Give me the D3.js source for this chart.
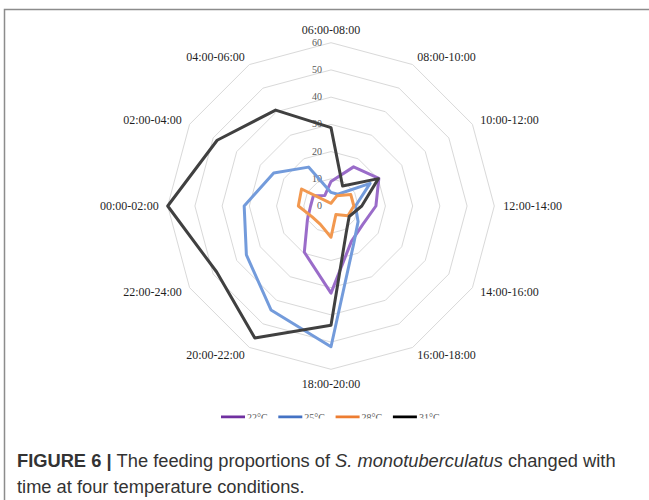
<!DOCTYPE html>
<html>
<head>
<meta charset="utf-8">
<script src="https://cdn.jsdelivr.net/npm/d3@7"></script>
<style>
  body { margin: 0; background: #fff; }
  svg { display: block; }
</style>
</head>
<body>
<svg id="chart" width="649" height="500"></svg>
<script>
"use strict";

// categories clockwise from the top
const categories = ["06:00-08:00", "08:00-10:00", "10:00-12:00", "12:00-14:00",
    "14:00-16:00", "16:00-18:00", "18:00-20:00", "20:00-22:00",
    "22:00-24:00", "00:00-02:00", "02:00-04:00", "04:00-06:00"];
const temps = ["22°C", "25°C", "28°C", "31°C"];
const t22 = [9, 16.6, 20.3, 16.5, 13.5, 15, 32, 19.6, 10, 7.5, 7.5, 4.5];
const t25 = [5, 5, 16.6, 9, 11.5, 16.5, 51.7, 44.1, 35.9, 31.9, 24.3, 16.5];
const t28 = [1, 4.3, 8.4, 8.4, 7.2, 3.6, 11.5, 7.8, 8, 12, 12.5, 1.5];
const t31 = [28.8, 8.5, 20.1, 11.3, 7.7, 11.2, 43.8, 56, 48.5, 60, 48.3, 40.7];
const radialTicks = [0, 10, 20, 30, 40, 50, 60];

const cx = 331, cy = 206, R = 163.3;
const svg = d3.select("#chart");

// frame lines of the figure box
svg.append("path")
    .attr("d", "M4.5,500 V9.5 H649")
    .attr("fill", "none")
    .attr("stroke", "#8c8c8c")
    .attr("stroke-width", 1.5);

const rScale = d3.scaleLinear().domain([0, 60]).range([0, R]);
const step = 2 * Math.PI / categories.length;
const g = svg.append("g").attr("transform", `translate(${cx},${cy})`);

// grid rings
const ringLine = d3.lineRadial()
    .angle((d, i) => i * step)
    .radius(d => rScale(d))
    .curve(d3.curveLinearClosed);
g.selectAll("path.ring")
    .data(radialTicks.slice(1))
    .join("path")
    .attr("class", "ring")
    .attr("d", t => ringLine(categories.map(() => t)))
    .attr("fill", "none")
    .attr("stroke", "#d9d9d9")
    .attr("stroke-width", 1);

// tick labels
g.selectAll("text.tick")
    .data(radialTicks)
    .join("text")
    .attr("class", "tick")
    .attr("x", -9)
    .attr("y", d => -rScale(d))
    .attr("dy", "0.3em")
    .attr("text-anchor", "end")
    .attr("font-family", "'Liberation Serif', serif")
    .attr("font-size", 10)
    .attr("fill", "#595959")
    .text(d => d);

// category labels
g.selectAll("text.cat")
    .data(categories)
    .join("text")
    .attr("class", "cat")
    .attr("x", (d, i) => (R + 9) * Math.sin(i * step))
    .attr("y", (d, i) => {
        let c = Math.cos(i * step);
        let extra = Math.abs(c) > 0.99 ? (c > 0 ? -4 : 5) : 0;
        return -(R + 9) * c + extra;
    })
    .attr("dy", "0.35em")
    .attr("text-anchor", (d, i) => {
        let s = Math.sin(i * step);
        return Math.abs(s) < 0.01 ? "middle" : (s > 0 ? "start" : "end");
    })
    .attr("font-family", "'Liberation Serif', serif")
    .attr("font-size", 12)
    .attr("fill", "#1f1f1f")
    .text(d => d);

// series with a left-to-right shade
const series = [
    {name: temps[0], values: t22, light: "#9a6cc9", dark: "#6a27a2", legend: "#7030a0"},
    {name: temps[1], values: t25, light: "#739bdb", dark: "#2f6ccc", legend: "#4472c4"},
    {name: temps[2], values: t28, light: "#f2984f", dark: "#ef7a22", legend: "#ed7d31"},
    {name: temps[3], values: t31, light: "#404040", dark: "#000000", legend: "#000000"}
];
const defs = svg.append("defs");
series.forEach(function(s, k) {
    let grad = defs.append("linearGradient")
        .attr("id", "grad" + k)
        .attr("gradientUnits", "userSpaceOnUse")
        .attr("x1", cx - R).attr("x2", cx + R)
        .attr("y1", 0).attr("y2", 0);
    grad.append("stop").attr("offset", 0).attr("stop-color", s.light);
    grad.append("stop").attr("offset", 0.47).attr("stop-color", s.light);
    grad.append("stop").attr("offset", 0.52).attr("stop-color", s.dark);
    grad.append("stop").attr("offset", 1).attr("stop-color", s.dark);
});

const seriesLine = d3.lineRadial()
    .angle((d, i) => i * step)
    .radius(d => rScale(d))
    .curve(d3.curveLinearClosed);
svg.append("g")
    .attr("transform", `translate(${cx},${cy})`)
    .selectAll("path")
    .data(series)
    .join("path")
    .attr("d", d => seriesLine(d.values))
    .attr("fill", "none")
    .attr("stroke", (d, k) => `url(#grad${k})`)
    .attr("stroke-width", 3)
    .attr("stroke-linejoin", "round");

// legend (its text is cut off in the figure)
defs.append("clipPath").attr("id", "legclip")
    .append("rect").attr("x", 0).attr("y", 405).attr("width", 649).attr("height", 13.5);
const leg = svg.append("g").attr("clip-path", "url(#legclip)");
const legX = d3.scaleLinear().domain([0, 1]).range([221, 278.3]);
const item = leg.selectAll("g")
    .data(series)
    .join("g")
    .attr("transform", (d, k) => `translate(${legX(k)},417)`);
item.append("line")
    .attr("x1", 0).attr("x2", 24)
    .attr("stroke", d => d.legend)
    .attr("stroke-width", 3);
item.append("text")
    .attr("x", 26)
    .attr("y", 4.2)
    .attr("font-family", "'Liberation Serif', serif")
    .attr("font-size", 10)
    .attr("fill", "#595959")
    .text(d => d.name);

// caption
const cap = svg.append("text")
    .attr("x", 17)
    .attr("y", 467)
    .attr("font-family", "'Liberation Sans', Arial, sans-serif")
    .attr("font-size", 18.3)
    .attr("fill", "#333");
cap.append("tspan").attr("font-weight", "bold").text("FIGURE 6 | ");
cap.append("tspan").text("The feeding proportions of ");
cap.append("tspan").attr("font-style", "italic").text("S. monotuberculatus");
cap.append("tspan").text(" changed with");
svg.append("text")
    .attr("x", 17)
    .attr("y", 493)
    .attr("font-family", "'Liberation Sans', Arial, sans-serif")
    .attr("font-size", 18.3)
    .attr("fill", "#333")
    .text("time at four temperature conditions.");
</script>
</body>
</html>
